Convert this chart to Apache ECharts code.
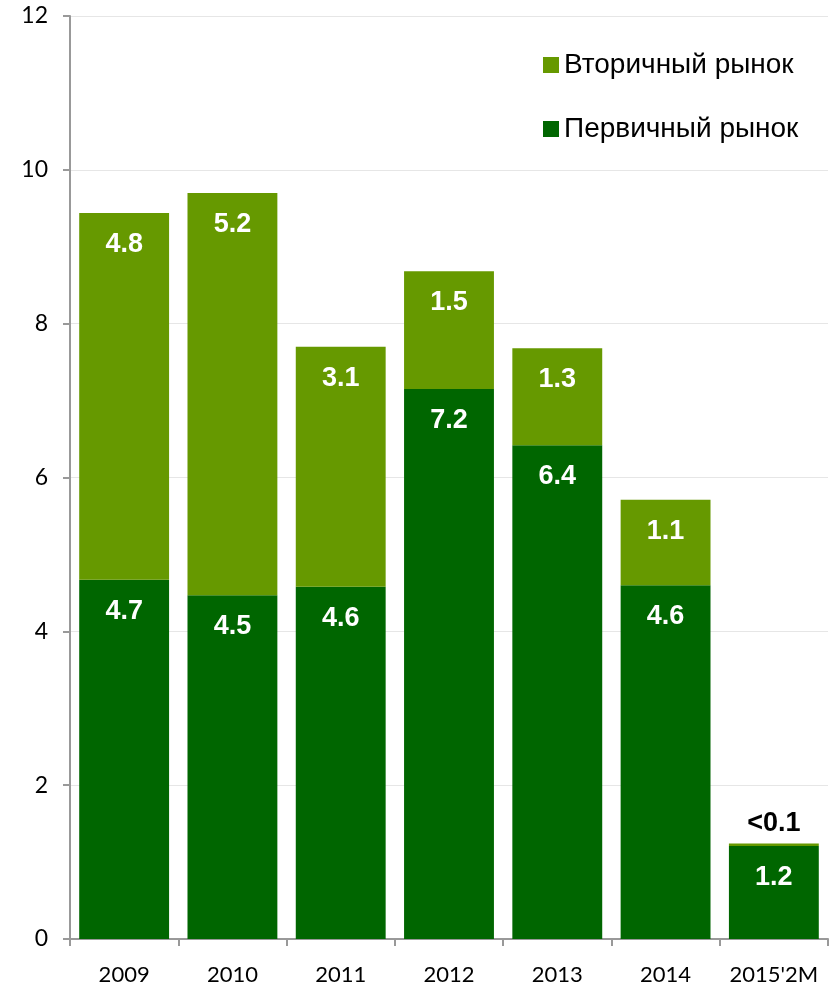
<!DOCTYPE html>
<html>
<head>
<meta charset="utf-8">
<script src="https://cdn.jsdelivr.net/npm/echarts@6/dist/echarts.min.js"></script>
<style>
  html, body { margin: 0; padding: 0; background: #fff; }
  #chart { width: 836px; height: 987px; }
</style>
</head>
<body>
<div id="chart"></div>
<script>
const categories = ['2009', '2010', '2011', '2012', '2013', '2014', "2015'2M"];
const primary = [4.67, 4.47, 4.58, 7.15, 6.42, 4.6, 1.21];
const secondary = [4.77, 5.23, 3.12, 1.53, 1.26, 1.11, 0.03];
const primaryLabels = ['4.7', '4.5', '4.6', '7.2', '6.4', '4.6', '1.2'];
const secondaryLabels = ['4.8', '5.2', '3.1', '1.5', '1.3', '1.1', '<0.1'];

const chart = echarts.init(document.getElementById('chart'));

const valueLabel = {
  show: true,
  position: 'insideTop',
  distance: 18,
  color: '#fff',
  fontFamily: 'Liberation Sans, Arial',
  fontWeight: 'bold',
  fontSize: 27
};

const option = {
  animation: false,
  grid: { left: 70, right: 8, top: 16, bottom: 48 },
  legend: {
    orient: 'vertical',
    left: 538,
    top: 46,
    itemWidth: 16,
    itemHeight: 16,
    itemGap: 36,
    icon: 'rect',
    textStyle: { fontFamily: 'Liberation Sans, Arial', fontSize: 28, color: '#000' },
    data: ['Вторичный рынок', 'Первичный рынок']
  },
  xAxis: {
    type: 'category',
    data: categories,
    axisLine: { lineStyle: { color: '#999', width: 2 } },
    axisTick: { show: true, length: 7, lineStyle: { color: '#999', width: 2 } },
    axisLabel: { interval: 0, color: '#000', fontFamily: 'Lato', fontSize: 22, margin: 25 }
  },
  yAxis: {
    type: 'value',
    min: 0,
    max: 12,
    interval: 2,
    axisLine: { show: true, lineStyle: { color: '#999', width: 2 } },
    axisTick: { show: true, length: 7, lineStyle: { color: '#999', width: 2 } },
    splitLine: { show: true, lineStyle: { color: '#e6e6e6', width: 1 } },
    axisLabel: { color: '#000', fontFamily: 'Lato', fontSize: 23, margin: 22 }
  },
  series: [
    {
      name: 'Первичный рынок',
      type: 'bar',
      stack: 'total',
      barWidth: '83%',
      itemStyle: { color: '#006600' },
      label: Object.assign({}, valueLabel, {
        formatter: p => primaryLabels[p.dataIndex]
      }),
      data: primary
    },
    {
      name: 'Вторичный рынок',
      type: 'bar',
      stack: 'total',
      barWidth: '83%',
      itemStyle: { color: '#669900' },
      label: Object.assign({}, valueLabel, {
        formatter: p => secondaryLabels[p.dataIndex]
      }),
      data: secondary.map((v, i) => i === secondary.length - 1
        ? { value: v, label: { position: 'top', distance: 7, color: '#000' } }
        : v)
    }
  ]
};

chart.setOption(option);
</script>
</body>
</html>
